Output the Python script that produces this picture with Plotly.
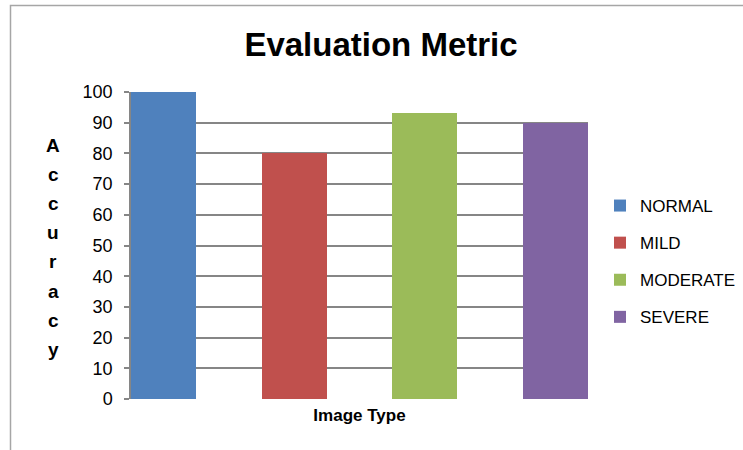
import plotly.graph_objects as go

# Series shown as separate bars within the single "Image Type" category
series_names = ["NORMAL", "MILD", "MODERATE", "SEVERE"]
accuracy = [100, 80, 93, 90]
colors = ["#4F81BD", "#C0504D", "#9BBB59", "#8064A2"]
y_ticks = list(range(0, 101, 10))
y_title = "Accuracy"

W, H = 743, 450
ML, MR, MT, MB = 131, 155, 92, 51

fig = go.Figure()
for i, (name, val, col) in enumerate(zip(series_names, accuracy, colors)):
    fig.add_trace(go.Bar(
        x=[i], y=[val], name=name, width=0.5,
        marker=dict(color=col, line=dict(width=0)),
        legendgroup=name,
    ))

# vertically stacked letters for the y-axis title
top_px, step_px = 145, 29.2
plot_h = H - MT - MB
pw = W - ML - MR
for k, ch in enumerate(y_title):
    ypx = top_px + k * step_px
    fig.add_annotation(
        text=f"<b>{ch}</b>", xref="paper", yref="paper",
        x=(53 - ML) / pw, y=1 - (ypx - MT) / plot_h,
        showarrow=False, xanchor="center", yanchor="middle",
        font=dict(family="Liberation Sans", size=19, color="#000000"),
    )

# chart border (clipped at the right and bottom of the page)
fig.add_shape(
    type="rect", xref="paper", yref="paper",
    x0=(10.5 - ML) / pw, x1=(W + 5 - ML) / pw,
    y0=1 - (H + 5 - MT) / plot_h, y1=1 - (5.5 - MT) / plot_h,
    line=dict(color="#A6A6A6", width=1.5), fillcolor="rgba(0,0,0,0)", layer="below",
)

fig.update_layout(
    width=W, height=H,
    margin=dict(l=ML, r=MR, t=MT, b=MB),
    paper_bgcolor="white", plot_bgcolor="white",
    title=dict(
        text="<b>Evaluation Metric</b>", x=381 / W, xanchor="center",
        y=1 - 44 / H, yanchor="middle",
        font=dict(family="Liberation Sans", size=33, color="#000000"),
    ),
    showlegend=True,
    legend=dict(
        xref="container", yref="container", x=600 / W, y=1 - 188 / H,
        xanchor="left", yanchor="top",
        font=dict(family="Liberation Sans", size=17, color="#000000"),
        tracegroupgap=12, bgcolor="rgba(0,0,0,0)",
    ),
    xaxis=dict(
        range=[-0.25, 3.25], showticklabels=False, ticks="", showgrid=False,
        zeroline=False, showline=False,
        title=dict(text="<b>Image Type</b>", standoff=10,
                   font=dict(family="Liberation Sans", size=17, color="#000000")),
    ),
    yaxis=dict(
        range=[0, 100], tickvals=y_ticks, ticks="outside", ticklen=5,
        tickcolor="#868686", tickwidth=1.5,
        showgrid=True, gridcolor="#868686", gridwidth=1.5,
        showline=True, linecolor="#868686", linewidth=1.5,
        zeroline=False, ticklabelstandoff=8,
        tickfont=dict(family="Liberation Sans", size=18, color="#000000"),
    ),
    bargap=0,
)

fig.write_html("out.html")
